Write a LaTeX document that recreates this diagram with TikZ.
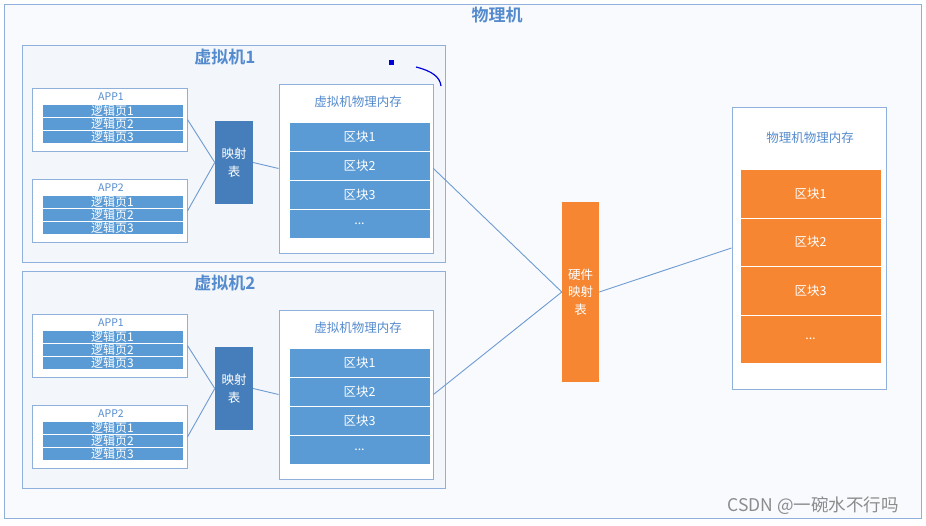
\documentclass[tikz,border=0pt]{standalone}
\usepackage{fontspec}
\setmainfont{Noto Sans CJK SC}[BoldFont={Noto Sans CJK SC Bold}]
\definecolor{pagebl}{RGB}{91,155,213}
\definecolor{mapbl}{RGB}{70,126,187}
\definecolor{edgebl}{RGB}{143,176,218}
\definecolor{titlebl}{RGB}{84,139,206}
\definecolor{linkbl}{RGB}{110,155,210}
\definecolor{hworange}{RGB}{246,134,50}
\definecolor{vmfill}{RGB}{243,246,251}
\newcommand\blkdots{...}
\begin{document}
\begin{tikzpicture}[x=1pt,y=-1pt,
vmbox/.style={draw=edgebl,fill=vmfill,line width=0.9pt,minimum width=423pt,minimum height=217pt,inner sep=0pt},
appbox/.style={draw=edgebl,fill=white,line width=0.9pt,minimum width=155pt,minimum height=63pt,inner sep=0pt},
pagebar/.style={draw=white,fill=pagebl,line width=0.5pt,minimum width=141pt,minimum height=13pt,inner sep=0pt,text=white,font=\fontsize{12}{13}\selectfont},
maptab/.style={fill=mapbl,minimum width=38pt,minimum height=83pt,inner sep=0pt,text=white,align=center,font=\fontsize{12.5}{18}\selectfont},
membox/.style={draw=edgebl,fill=white,line width=0.9pt,minimum width=154pt,inner sep=0pt},
blockrow/.style={draw=white,fill=pagebl,line width=0.5pt,minimum width=141pt,inner sep=0pt,text=white,font=\fontsize{12.5}{14}\selectfont},
orangerow/.style={blockrow,fill=hworange},
title/.style={text=titlebl,font=\fontsize{12.5}{14}\selectfont},
link/.style={draw=linkbl,line width=0.9pt}]
\useasboundingbox (0,0) rectangle (926,525);
\fill[white] (0,0) rectangle (926,525);
\draw[draw=edgebl,fill=vmfill!60] (4,4) rectangle (921,518);
\node[text=titlebl,font=\fontsize{17}{19}\selectfont\bfseries] (pm) at (497,15) {物理机};
% two virtual machines
\foreach \v/\dy in {1/0,2/226}{
  \node[vmbox] (vm\v) at (233.5,153.5+\dy) {};
  \node[text=titlebl,font=\fontsize{17}{19}\selectfont\bfseries] (vmt\v) at (225,57+\dy) {虚拟机\v};
  \foreach \a/\ay in {1/0,2/91.5}{
    \node[appbox] (app\v-\a) at (109.5,119.5+\dy+\ay) {};
    \node[title,font=\fontsize{10.5}{12}\selectfont] (appt\v-\a) at (111,96.5+\dy+\ay) {APP\a};
    \foreach \p in {1,2,3}
      \node[pagebar] (pg\v-\a-\p) at (112.5,97.5+13*\p+\dy+\ay) {逻辑页\p};
  }
  \node[maptab] (map\v) at (234,162.5+\dy) {映射\\表};
  \node[membox,minimum height=169pt] (mem\v) at (356,168.5+\dy) {};
  \node[title] (memt\v) at (358,102+\dy) {虚拟机物理内存};
  \foreach \b/\txt in {1/区块1,2/区块2,3/区块3,4/\blkdots}
    \node[blockrow,minimum height=29pt] (blk\v-\b) at (359.5,107.5+29*\b+\dy) {\txt};
  \draw[link] (app\v-1.east) -- (map\v.west);
  \draw[link] (app\v-2.east) -- (map\v.west);
  \draw[link] (map\v.east) -- (mem\v.west);
}
% hardware side
\node[maptab,fill=hworange,minimum width=37pt,minimum height=180pt,font=\fontsize{12.5}{17.5}\selectfont] (hw) at (580.5,292) {硬件\\映射\\表};
\node[membox,minimum height=282pt] (phys) at (809,248) {};
\node[title] (physt) at (810,138) {物理机物理内存};
\foreach \b/\txt in {1/区块1,2/区块2,3/区块3,4/\blkdots}
  \node[orangerow,minimum height=48.5pt] (pb\b) at (810.5,145.25+48.5*\b) {\txt};
\draw[link] (mem1.east) -- (hw.west);
\draw[link] (mem2.east) -- (hw.west);
\draw[link] (hw.east) -- (phys.west);
% pen marks
\fill[blue!85!black] (388.5,59.5) rectangle (393.5,64.5);
\draw[blue!85!black,line width=1.2pt] (416,67) .. controls (432,71) and (440,77) .. (441,86);
\node[text=black!45,font=\fontsize{17.5}{19}\selectfont] (mark) at (813,506) {CSDN @一碗水不行吗};
\end{tikzpicture}
\end{document}
